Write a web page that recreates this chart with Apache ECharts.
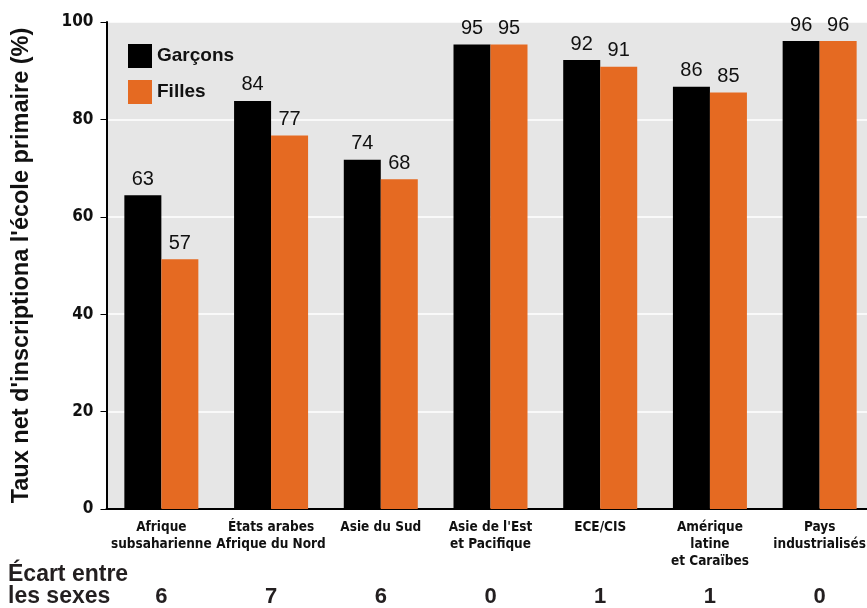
<!DOCTYPE html>
<html><head><meta charset="utf-8">
<script src="https://cdn.jsdelivr.net/npm/echarts@6/dist/echarts.min.js"></script>
<style>html,body{margin:0;padding:0;background:#fff;overflow:hidden}#c{width:876px;height:608px}</style>
</head><body><div id="c"></div>
<script>
const categories = ["Afrique\nsubsaharienne","États arabes\nAfrique du Nord","Asie du Sud","Asie de l'Est\net Pacifique","ECE/CIS","Amérique\nlatine\net Caraïbes","Pays\nindustrialisés"];
const garcons = [64.4, 83.8, 71.7, 95.4, 92.2, 86.7, 96.1];
const filles = [51.3, 76.7, 67.7, 95.4, 90.8, 85.5, 96.1];
const garconsLabels = [63, 84, 74, 95, 92, 86, 96];
const fillesLabels = [57, 77, 68, 95, 91, 85, 96];
const ecart = [6, 7, 6, 0, 1, 1, 0];
const yTicks = [0, 20, 40, 60, 80, 100];

const narrow = "'Liberation Sans Narrow','DejaVu Sans Condensed','Liberation Sans',sans-serif";
const sans = "'Liberation Sans',Arial,sans-serif";
const chart = echarts.init(document.getElementById('c'));
chart.setOption({
  animation: false,
  grid: {left: 106.5, top: 22, width: 768, height: 488.5, show: true, backgroundColor: '#e6e6e6', borderWidth: 0},
  legend: {
    orient: 'vertical', left: 123, top: 39, itemWidth: 24, itemHeight: 24, itemGap: 12,
    icon: 'rect',
    textStyle: {fontFamily: sans, fontWeight: 'bold', fontSize: 19, color: '#111'},
    data: ['Garçons', 'Filles']
  },
  xAxis: [{
    type: 'category', data: categories, position: 'bottom',
    axisLine: {lineStyle: {color: '#000', width: 2}},
    axisTick: {show: false},
    axisLabel: {interval: 0, margin: 10, fontFamily: narrow, fontWeight: 'bold', fontSize: 13.5, lineHeight: 17, color: '#111'}
  }, {
    type: 'category', data: ecart, position: 'bottom', offset: 69,
    axisLine: {show: false}, axisTick: {show: false},
    axisLabel: {interval: 0, margin: 8, fontFamily: sans, fontWeight: 'bold', fontSize: 22, color: '#231f20'}
  }],
  yAxis: {
    type: 'value', min: yTicks[0], max: yTicks[yTicks.length-1], interval: 20,
    name: "Taux net d'inscriptiona l'école primaire (%)", nameLocation: 'middle', nameGap: 73,
    nameTextStyle: {fontFamily: sans, fontWeight: 'bold', fontSize: 23.5, color: '#111'},
    axisLine: {show: true, lineStyle: {color: '#000', width: 2}},
    axisTick: {show: true, length: 6, lineStyle: {color: '#000', width: 1}},
    axisLabel: {margin: 13, fontFamily: narrow, fontWeight: 'bold', fontSize: 17, color: '#111'},
    splitLine: {show: true, lineStyle: {color: '#ffffff', width: 1.5}}
  },
  graphic: [{
    type: 'text', left: 8, top: 563,
    style: {text: 'Écart entre\nles sexes', fontFamily: sans, fontWeight: 'bold', fontSize: 23, lineHeight: 22, fill: '#231f20'}
  }],
  series: [{
    name: 'Garçons', type: 'bar', data: garcons, barWidth: 37, barGap: '0%',
    itemStyle: {color: '#000'},
    label: {show: true, position: 'top', distance: 6, fontFamily: sans, fontSize: 20, color: '#111',
      formatter: p => garconsLabels[p.dataIndex]}
  }, {
    name: 'Filles', type: 'bar', data: filles, barWidth: 37, barGap: '0%',
    itemStyle: {color: '#e56a22'},
    label: {show: true, position: 'top', distance: 6, fontFamily: sans, fontSize: 20, color: '#111',
      formatter: p => fillesLabels[p.dataIndex]}
  }]
});
</script></body></html>
